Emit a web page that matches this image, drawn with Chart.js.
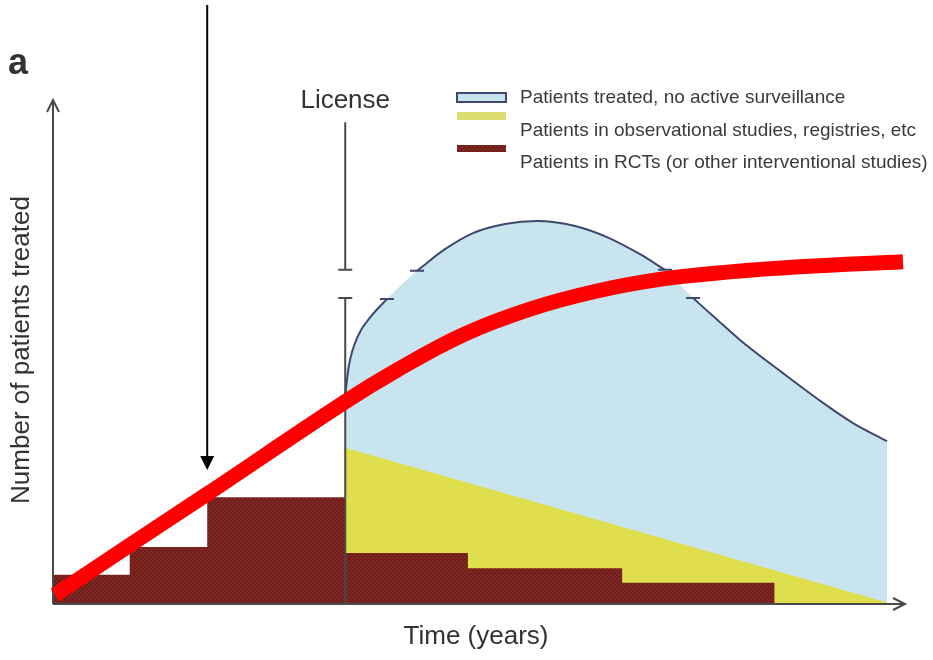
<!DOCTYPE html>
<html>
<head>
<meta charset="utf-8">
<script src="https://cdn.jsdelivr.net/npm/chart.js@4"></script>
<style>
  body { margin: 0; background: #fff; }
  #wrap { width: 933px; height: 660px; }
</style>
</head>
<body>
<div id="wrap"><canvas id="chart"></canvas></div>
<script>
// time runs 0..100 along the x axis, patient count 0..100 up the y axis
const rctTime  = [0, 9.0, 18.1, 34.3, 48.7, 66.8, 84.7];
const rctCount = [5.8, 11.3, 21.2, 10.1, 7.1, 4.2, 0];

const obsTime  = [34.3, 97.9];
const obsCount = [31.0, 0.3];

// "no active surveillance" curve, split where the y axis is broken
const leftTime   = [34.27, 34.74, 35.80, 37.44, 39.20];
const leftCount  = [41.1, 47.4, 53.2, 57.3, 60.5];
const arcTime    = [42.72, 46.01, 49.30, 53.05, 56.81, 61.27, 65.02, 68.90, 71.83];
const arcCount   = [66.1, 70.4, 73.6, 75.4, 76.0, 75.0, 72.8, 69.4, 66.3];
const rightTime  = [75.12, 77.70, 80.63, 85.68, 90.38, 93.90, 97.89];
const rightCount = [60.7, 56.8, 52.4, 45.8, 39.9, 35.9, 32.3];

// red trend line drawn over the figure
const trendTime  = [0.23, 9.04, 18.08, 34.27, 40.38, 48.12, 55.99, 63.85, 71.60, 79.46, 87.68, 99.77];
const trendCount = [1.8, 11.7, 21.8, 40.1, 46.4, 53.4, 58.5, 62.1, 64.5, 65.9, 66.9, 67.9];

const licenseTime = 34.3;
const licenseTop = 95.6;
const breakHigh = 66.3;
const breakLow = 60.7;
const arrowTime = 18.1;
const arrowTip = 26.6;

const legendLabels = [
  'Patients treated, no active surveillance',
  'Patients in observational studies, registries, etc',
  'Patients in RCTs (or other interventional studies)'
];

const zip = (xs, ys) => xs.map((x, i) => ({ x: x, y: ys[i] }));

// hatched dark red like the printed figure
function makeHatch() {
  const c = document.createElement('canvas');
  c.width = 4; c.height = 4;
  const g = c.getContext('2d');
  g.fillStyle = 'rgb(130,38,34)';
  g.fillRect(0, 0, 4, 4);
  g.strokeStyle = 'rgb(92,24,22)';
  g.lineWidth = 1;
  g.beginPath();
  g.moveTo(-1, 5); g.lineTo(5, -1);
  g.stroke();
  return g.createPattern(c, 'repeat');
}
const hatch = makeHatch();

const blueFill = 'rgb(200,229,239)';
const blueLine = 'rgb(62,72,110)';
const yellow = 'rgb(223,223,78)';
const axisColor = '#4a4a4a';

const curveStyle = {
  fill: false, borderColor: blueLine, borderWidth: 2, pointRadius: 0,
  cubicInterpolationMode: 'monotone'
};

const RCT_INDEX = 1;

const decor = {
  id: 'decor',
  afterDatasetDraw(chart, args) {
    if (args.index !== RCT_INDEX) return;
    const ctx = chart.ctx;
    const xs = chart.scales.x, ys = chart.scales.y;
    const x0 = xs.getPixelForValue(0), y0 = ys.getPixelForValue(0);
    const xEnd = xs.getPixelForValue(100), yEnd = ys.getPixelForValue(100);
    ctx.save();
    ctx.strokeStyle = axisColor;
    ctx.lineWidth = 2;
    // axes with open arrow heads
    ctx.beginPath();
    ctx.moveTo(x0, y0); ctx.lineTo(x0, yEnd);
    ctx.moveTo(x0 - 6, yEnd + 12); ctx.lineTo(x0, yEnd); ctx.lineTo(x0 + 6, yEnd + 12);
    ctx.moveTo(x0, y0); ctx.lineTo(xEnd, y0);
    ctx.moveTo(xEnd - 12, y0 - 6); ctx.lineTo(xEnd, y0); ctx.lineTo(xEnd - 12, y0 + 6);
    ctx.stroke();
    // license line with break marks
    const lx = xs.getPixelForValue(licenseTime);
    const yh = ys.getPixelForValue(breakHigh), yl = ys.getPixelForValue(breakLow);
    ctx.beginPath();
    ctx.moveTo(lx, ys.getPixelForValue(licenseTop)); ctx.lineTo(lx, yh);
    ctx.moveTo(lx - 7, yh); ctx.lineTo(lx + 7, yh);
    ctx.moveTo(lx - 7, yl); ctx.lineTo(lx + 7, yl);
    ctx.moveTo(lx, yl); ctx.lineTo(lx, y0);
    ctx.stroke();
    // break caps on the curve
    ctx.strokeStyle = blueLine;
    const caps = [
      [leftTime[leftTime.length - 1], leftCount[leftCount.length - 1]],
      [arcTime[0], arcCount[0]],
      [arcTime[arcTime.length - 1], arcCount[arcCount.length - 1]],
      [rightTime[0], rightCount[0]]
    ];
    ctx.beginPath();
    caps.forEach(([t, v]) => {
      const px = xs.getPixelForValue(t), py = ys.getPixelForValue(v);
      ctx.moveTo(px - 7, py); ctx.lineTo(px + 7, py);
    });
    ctx.stroke();
    ctx.restore();
  },
  afterDraw(chart) {
    const ctx = chart.ctx;
    const xs = chart.scales.x, ys = chart.scales.y;
    ctx.save();
    // black arrow from the top edge
    const ax = xs.getPixelForValue(arrowTime), ay = ys.getPixelForValue(arrowTip);
    ctx.strokeStyle = '#000';
    ctx.fillStyle = '#000';
    ctx.lineWidth = 2;
    ctx.beginPath();
    ctx.moveTo(ax, 5); ctx.lineTo(ax, ay - 12);
    ctx.stroke();
    ctx.beginPath();
    ctx.moveTo(ax - 7, ay - 14); ctx.lineTo(ax + 7, ay - 14); ctx.lineTo(ax, ay);
    ctx.closePath(); ctx.fill();

    // texts
    ctx.fillStyle = '#333';
    ctx.textBaseline = 'middle';
    ctx.font = 'bold 36px "Liberation Sans", Arial, sans-serif';
    ctx.textAlign = 'left';
    ctx.fillText('a', 8, 64);

    ctx.font = '26px "Liberation Sans", Arial, sans-serif';
    ctx.textAlign = 'center';
    ctx.fillText('License', xs.getPixelForValue(licenseTime), 101);
    ctx.fillText('Time (years)', 476, 637);
    ctx.save();
    ctx.translate(22, 350);
    ctx.rotate(-Math.PI / 2);
    ctx.fillText('Number of patients treated', 0, 0);
    ctx.restore();

    // legend
    const sw = [
      { y: 93, h: 9, fill: blueFill, line: blueLine },
      { y: 112, h: 8, fill: 'rgb(222,222,110)' },
      { y: 145, h: 7, fill: hatch }
    ];
    const textY = [98, 131, 163];
    sw.forEach((s, i) => {
      ctx.fillStyle = s.fill;
      ctx.fillRect(457, s.y, 49, s.h);
      if (s.line) {
        ctx.strokeStyle = s.line; ctx.lineWidth = 2;
        ctx.strokeRect(457, s.y, 49, s.h);
      }
      ctx.fillStyle = '#3a3a3a';
      ctx.font = '19px "Liberation Sans", Arial, sans-serif';
      ctx.textAlign = 'left';
      ctx.fillText(legendLabels[i], 520, textY[i]);
    });
    ctx.restore();
  }
};

new Chart(document.getElementById('chart'), {
  type: 'line',
  data: {
    datasets: [
      {
        label: 'Trend',
        data: zip(trendTime, trendCount),
        borderColor: 'rgb(255,0,0)', borderWidth: 15, borderCapStyle: 'butt',
        pointRadius: 0, fill: false, tension: 0.4, clip: false
      },
      {
        label: legendLabels[2],
        data: zip(rctTime, rctCount),
        stepped: 'before', backgroundColor: hatch, borderWidth: 0,
        pointRadius: 0, fill: 'origin'
      },
      {
        label: legendLabels[1],
        data: zip(obsTime, obsCount),
        backgroundColor: yellow, borderWidth: 0, pointRadius: 0, fill: 'origin'
      },
      Object.assign({ label: 'left', data: zip(leftTime, leftCount) }, curveStyle),
      Object.assign({ label: 'arc', data: zip(arcTime, arcCount) }, curveStyle),
      Object.assign({ label: 'right', data: zip(rightTime, rightCount) }, curveStyle),
      {
        label: legendLabels[0],
        data: zip(leftTime.concat(arcTime, rightTime), leftCount.concat(arcCount, rightCount)),
        backgroundColor: blueFill, borderWidth: 0, pointRadius: 0, fill: 'origin',
        cubicInterpolationMode: 'monotone'
      }
    ]
  },
  options: {
    responsive: true,
    maintainAspectRatio: false,
    animation: false,
    layout: { padding: { left: 53, right: 28, top: 100, bottom: 56 } },
    scales: {
      x: { type: 'linear', min: 0, max: 100, display: false },
      y: { min: 0, max: 100, display: false }
    },
    plugins: {
      legend: { display: false },
      tooltip: { enabled: false }
    }
  },
  plugins: [decor]
});
</script>
</body>
</html>
